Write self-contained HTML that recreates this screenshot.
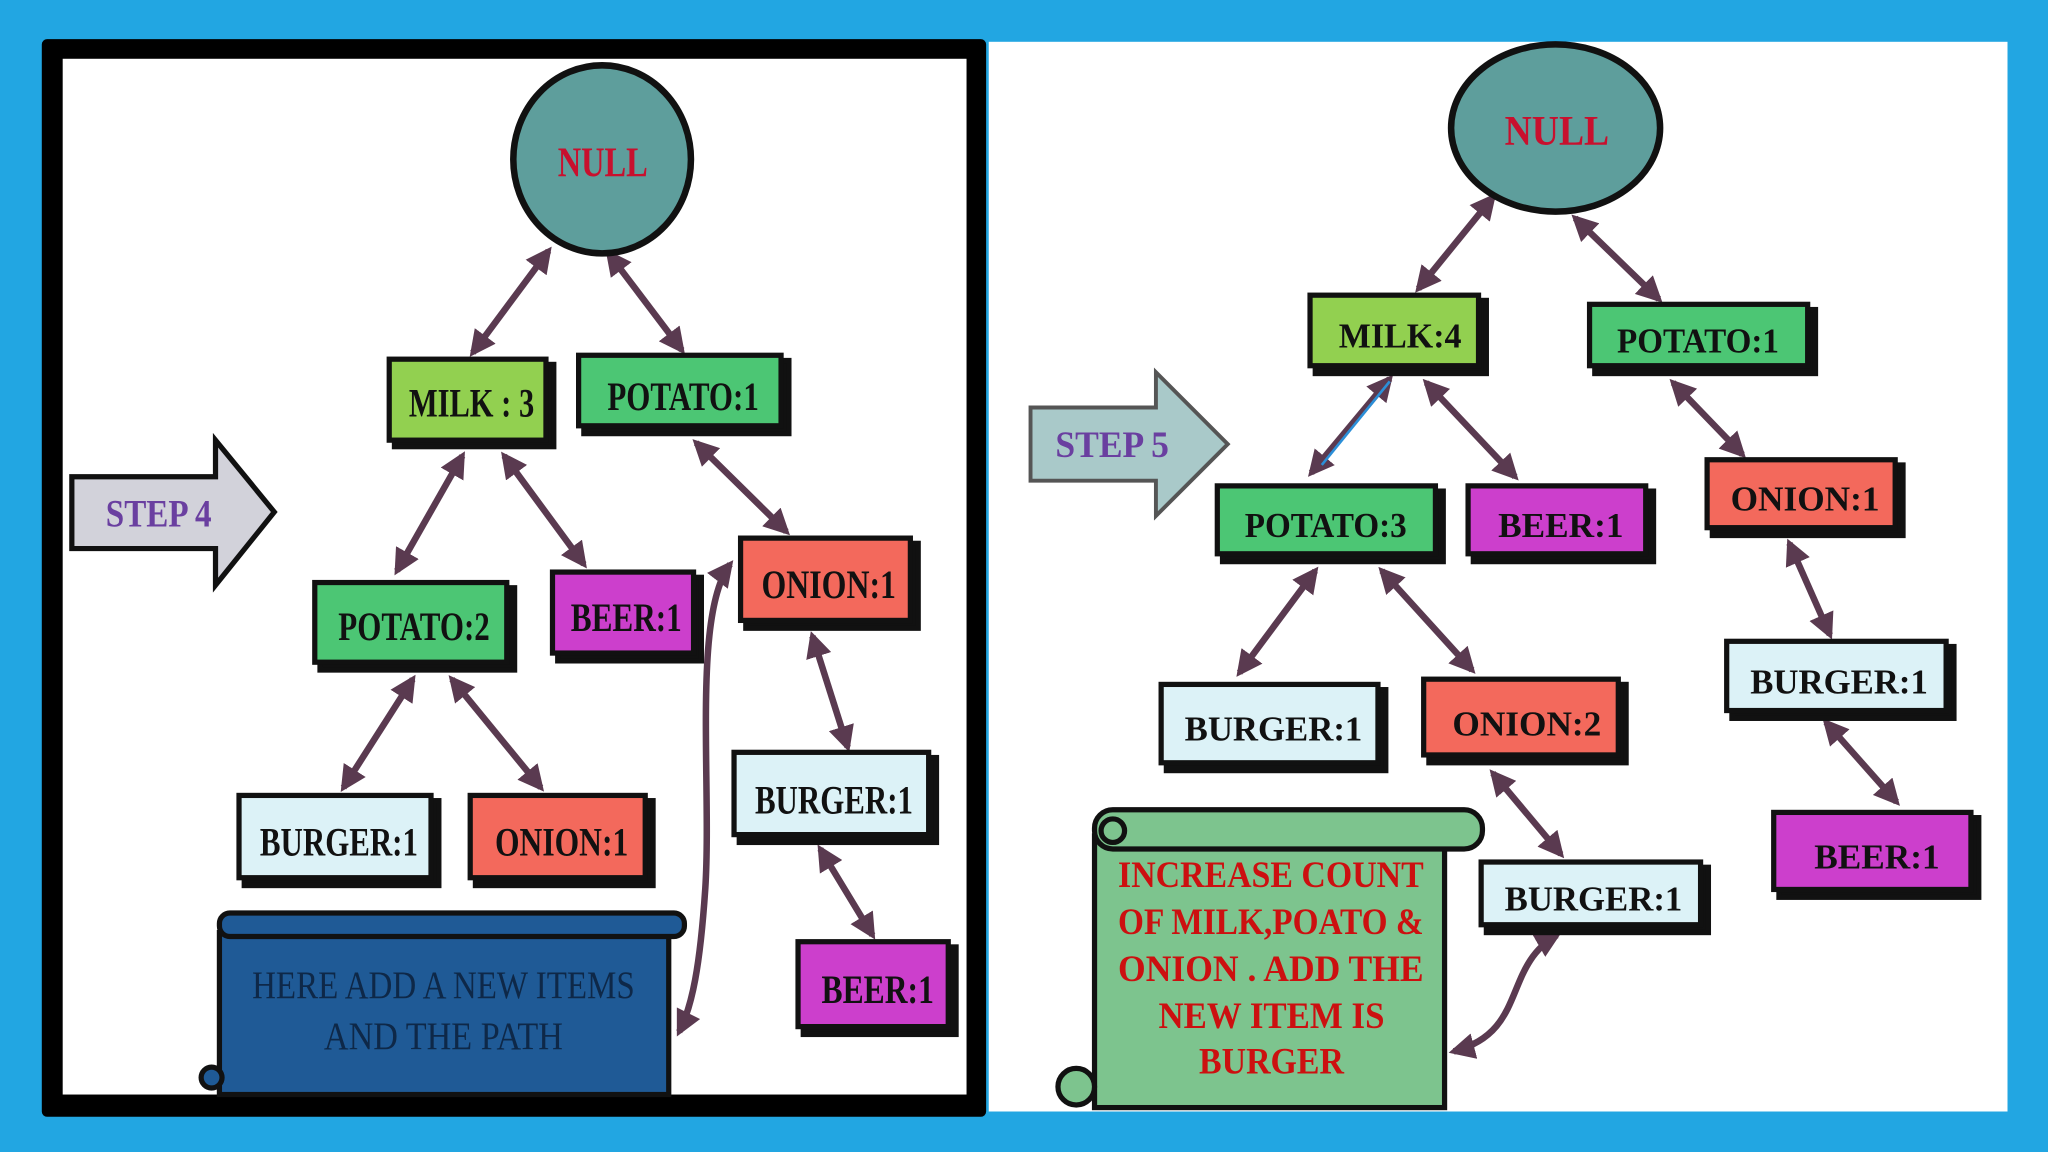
<!DOCTYPE html>
<html><head><meta charset="utf-8"><style>
html,body{margin:0;padding:0;background:#22a6e2;}
svg{display:block}
text{font-family:"Liberation Serif",serif;font-weight:bold;}
</style></head><body>
<svg width="2048" height="1152" viewBox="0 0 1568 882" xmlns="http://www.w3.org/2000/svg">
<defs>
<marker id="a" viewBox="0 0 10 10" refX="8" refY="5" markerWidth="4" markerHeight="4" orient="auto-start-reverse"><path d="M0,0 L10,5 L0,10 z" fill="#5a3a50"/></marker>
</defs>
<rect width="1568" height="882" fill="#22a6e2"/>
<rect x="757" y="32" width="780" height="819" fill="#fff"/>
<rect x="32" y="30" width="723" height="825" fill="#000" rx="4"/>
<rect x="48" y="45" width="692" height="793" fill="#fff"/>

<g stroke="#5a3a50" stroke-width="5" fill="none" marker-start="url(#a)" marker-end="url(#a)">
<line x1="420" y1="192" x2="362" y2="270"/>
<line x1="466" y1="194" x2="522" y2="268"/>
<line x1="354" y1="349" x2="304" y2="437"/>
<line x1="386" y1="349" x2="447" y2="432"/>
<line x1="533" y1="339" x2="602" y2="407"/>
<line x1="316" y1="520" x2="263" y2="603"/>
<line x1="346" y1="520" x2="414" y2="603"/>
<line x1="622" y1="487" x2="649" y2="572"/>
<line x1="628" y1="650" x2="668" y2="716"/>
<path d="M559,432 C530,470 545,600 540,680 C536,740 530,770 520,790"/>
<line x1="1143" y1="151" x2="1086" y2="221"/>
<line x1="1206" y1="167" x2="1270" y2="229"/>
<line x1="1064" y1="290" x2="1004" y2="362"/>
<line x1="1092" y1="293" x2="1160" y2="365"/>
<line x1="1281" y1="293" x2="1334" y2="348"/>
<line x1="1370" y1="416" x2="1401" y2="486"/>
<line x1="1007" y1="437" x2="949" y2="515"/>
<line x1="1058" y1="437" x2="1127" y2="513"/>
<line x1="1398" y1="553" x2="1452" y2="614"/>
<line x1="1143" y1="592" x2="1195" y2="654"/>
<path d="M1192,716 C1150,740 1170,790 1113,805"/>
</g>
<line x1="1064" y1="292" x2="1012" y2="356" stroke="#2b8fd8" stroke-width="2"/>

<ellipse cx="461" cy="122" rx="68" ry="72" fill="#5e9e9c" stroke="#111" stroke-width="5"/>
<text x="427" y="135" font-size="32" fill="#c8102e" textLength="69" lengthAdjust="spacingAndGlyphs">NULL</text>
<ellipse cx="1191" cy="98" rx="80" ry="64" fill="#5e9e9c" stroke="#111" stroke-width="5"/>
<text x="1152" y="111" font-size="32" fill="#c8102e" textLength="80" lengthAdjust="spacingAndGlyphs">NULL</text>

<g stroke="#111" stroke-width="4">
<rect x="302" y="279" width="122" height="63" fill="#111"/><rect x="298" y="275" width="120" height="62" fill="#92d050"/>
<rect x="447" y="276" width="157" height="56" fill="#111"/><rect x="443" y="272" width="155" height="54" fill="#4cc674"/>
<rect x="245" y="450" width="149" height="63" fill="#111"/><rect x="241" y="446" width="147" height="61" fill="#4cc674"/>
<rect x="427" y="442" width="110" height="64" fill="#111"/><rect x="423" y="438" width="108" height="62" fill="#cc3fcc"/>
<rect x="571" y="416" width="132" height="65" fill="#111"/><rect x="567" y="412" width="130" height="63" fill="#f3695c"/>
<rect x="187" y="613" width="149" height="65" fill="#111"/><rect x="183" y="609" width="147" height="63" fill="#dcf2f7"/>
<rect x="364" y="613" width="136" height="65" fill="#111"/><rect x="360" y="609" width="134" height="63" fill="#f3695c"/>
<rect x="566" y="580" width="151" height="65" fill="#111"/><rect x="562" y="576" width="149" height="63" fill="#dcf2f7"/>
<rect x="615" y="725" width="117" height="67" fill="#111"/><rect x="611" y="721" width="115" height="65" fill="#cc3fcc"/>

<rect x="1007" y="230" width="131" height="56" fill="#111"/><rect x="1003" y="226" width="129" height="54" fill="#92d050"/>
<rect x="1221" y="237" width="169" height="49" fill="#111"/><rect x="1217" y="233" width="167" height="47" fill="#4cc674"/>
<rect x="936" y="376" width="169" height="54" fill="#111"/><rect x="932" y="372" width="167" height="52" fill="#4cc674"/>
<rect x="1128" y="376" width="138" height="54" fill="#111"/><rect x="1124" y="372" width="136" height="52" fill="#cc3fcc"/>
<rect x="1311" y="356" width="146" height="54" fill="#111"/><rect x="1307" y="352" width="144" height="52" fill="#f3695c"/>
<rect x="893" y="528" width="168" height="62" fill="#111"/><rect x="889" y="524" width="166" height="60" fill="#dcf2f7"/>
<rect x="1094" y="524" width="151" height="60" fill="#111"/><rect x="1090" y="520" width="149" height="58" fill="#f3695c"/>
<rect x="1326" y="495" width="170" height="55" fill="#111"/><rect x="1322" y="491" width="168" height="53" fill="#dcf2f7"/>
<rect x="1138" y="664" width="170" height="50" fill="#111"/><rect x="1134" y="660" width="168" height="48" fill="#dcf2f7"/>
<rect x="1362" y="626" width="153" height="61" fill="#111"/><rect x="1358" y="622" width="151" height="59" fill="#cc3fcc"/>
</g>

<g font-size="31" fill="#111" lengthAdjust="spacingAndGlyphs">
<text x="313" y="319" textLength="96" lengthAdjust="spacingAndGlyphs">MILK : 3</text>
<text x="465" y="314" textLength="116" lengthAdjust="spacingAndGlyphs">POTATO:1</text>
<text x="259" y="490" textLength="116" lengthAdjust="spacingAndGlyphs">POTATO:2</text>
<text x="437" y="483" textLength="85" lengthAdjust="spacingAndGlyphs">BEER:1</text>
<text x="583" y="458" textLength="103" lengthAdjust="spacingAndGlyphs">ONION:1</text>
<text x="199" y="655" textLength="121" lengthAdjust="spacingAndGlyphs">BURGER:1</text>
<text x="379" y="655" textLength="102" lengthAdjust="spacingAndGlyphs">ONION:1</text>
<text x="578" y="623" textLength="121" lengthAdjust="spacingAndGlyphs">BURGER:1</text>
<text x="629" y="768" textLength="86" lengthAdjust="spacingAndGlyphs">BEER:1</text>
</g>
<g font-size="27" fill="#111">
<text x="1025" y="266" textLength="94" lengthAdjust="spacingAndGlyphs">MILK:4</text>
<text x="1238" y="270" textLength="124" lengthAdjust="spacingAndGlyphs">POTATO:1</text>
<text x="953" y="411" textLength="124" lengthAdjust="spacingAndGlyphs">POTATO:3</text>
<text x="1147" y="411" textLength="96" lengthAdjust="spacingAndGlyphs">BEER:1</text>
<text x="1325" y="391" textLength="114" lengthAdjust="spacingAndGlyphs">ONION:1</text>
<text x="907" y="567" textLength="136" lengthAdjust="spacingAndGlyphs">BURGER:1</text>
<text x="1112" y="563" textLength="114" lengthAdjust="spacingAndGlyphs">ONION:2</text>
<text x="1340" y="531" textLength="136" lengthAdjust="spacingAndGlyphs">BURGER:1</text>
<text x="1152" y="697" textLength="136" lengthAdjust="spacingAndGlyphs">BURGER:1</text>
<text x="1389" y="665" textLength="96" lengthAdjust="spacingAndGlyphs">BEER:1</text>
</g>

<path d="M55,365 L165,365 L165,337 L210,392 L165,448 L165,420 L55,420 Z" fill="#d2d2da" stroke="#111" stroke-width="4"/>
<text x="81" y="403" font-size="30" fill="#6a3fa0" textLength="81" lengthAdjust="spacingAndGlyphs">STEP 4</text>
<path d="M789,312 L885,312 L885,285 L940,340 L885,395 L885,368 L789,368 Z" fill="#a9c9c9" stroke="#555" stroke-width="3"/>
<text x="808" y="350" font-size="28" fill="#6a3fa0" textLength="87" lengthAdjust="spacingAndGlyphs">STEP 5</text>

<rect x="168" y="714" width="344" height="124" fill="#1f5a96" stroke="#111" stroke-width="4"/>
<rect x="168" y="699" width="356" height="18" rx="8" fill="#1f5a96" stroke="#111" stroke-width="4"/>
<circle cx="162" cy="825" r="8" fill="#1f5a96" stroke="#111" stroke-width="4"/>
<text x="193" y="764" font-size="30" fill="#0e2848" textLength="293" lengthAdjust="spacingAndGlyphs" font-weight="normal" style="font-weight:normal">HERE ADD A NEW ITEMS</text>
<text x="248" y="803" font-size="30" fill="#0e2848" textLength="183" lengthAdjust="spacingAndGlyphs" style="font-weight:normal">AND THE  PATH</text>

<rect x="838" y="640" width="268" height="208" fill="#7dc48e" stroke="#111" stroke-width="4"/>
<rect x="838" y="620" width="297" height="30" rx="14" fill="#7dc48e" stroke="#111" stroke-width="4"/>
<circle cx="852" cy="636" r="9" fill="#7dc48e" stroke="#111" stroke-width="4"/>
<circle cx="824" cy="832" r="14" fill="#7dc48e" stroke="#111" stroke-width="4"/>
<g font-size="28" fill="#cc1010">
<text x="856" y="679" textLength="234" lengthAdjust="spacingAndGlyphs">INCREASE COUNT</text>
<text x="856" y="715" textLength="234" lengthAdjust="spacingAndGlyphs">OF MILK,POATO &amp;</text>
<text x="856" y="751" textLength="234" lengthAdjust="spacingAndGlyphs">ONION . ADD THE</text>
<text x="887" y="787" textLength="173" lengthAdjust="spacingAndGlyphs">NEW ITEM IS</text>
<text x="918" y="822" textLength="111" lengthAdjust="spacingAndGlyphs">BURGER</text>
</g>
</svg>
</body></html>
